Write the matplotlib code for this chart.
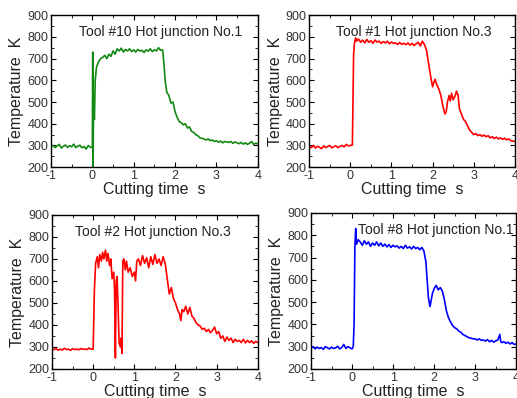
import matplotlib
matplotlib.use("Agg")
import matplotlib.pyplot as plt
from matplotlib.ticker import MultipleLocator

plt.rcParams['font.family'] = ['Liberation Sans', 'DejaVu Sans']

# baseline sample times before the cut starts
t_base = [-1.00, -0.95, -0.90, -0.85, -0.80, -0.75, -0.70, -0.65, -0.60, -0.55,
          -0.50, -0.45, -0.40, -0.35, -0.30, -0.25, -0.20, -0.15, -0.10, -0.05]

# Tool #10 Hot junction No.1
t10 = t_base + [0.00, 0.01, 0.015, 0.03, 0.05, 0.07, 0.10, 0.15, 0.20, 0.25, 0.30, 0.35,
                0.40, 0.45, 0.50, 0.55, 0.60, 0.65, 0.70, 0.75, 0.80, 0.85, 0.90, 0.95,
                1.00, 1.05, 1.10, 1.15, 1.20, 1.25, 1.30, 1.35, 1.40, 1.45, 1.50, 1.55,
                1.60, 1.65, 1.70, 1.73, 1.76, 1.80, 1.85, 1.90, 1.95, 2.00, 2.05, 2.10,
                2.15, 2.20, 2.25, 2.30, 2.35, 2.40, 2.45, 2.50, 2.55, 2.60, 2.70, 2.75,
                2.80, 2.85, 2.90, 2.95, 3.00, 3.05, 3.10, 3.15, 3.20, 3.30, 3.35, 3.40,
                3.45, 3.50, 3.55, 3.60, 3.65, 3.70, 3.75, 3.80, 3.85, 3.90, 3.95, 4.00]
T10 = [295, 300, 290, 298, 305, 288, 296, 302, 291, 299, 294, 306, 290, 297, 301, 289,
       295, 283, 300, 292,
       290, 730, 200, 480, 420, 600, 660, 685, 700, 705, 715, 700,
       720, 710, 735, 720, 745, 735, 748, 730, 742, 735, 745, 732,
       740, 730, 742, 735, 738, 728, 740, 734, 745, 732, 740, 735,
       750, 738, 740, 680, 600, 545, 530, 495, 500, 455, 430, 410,
       405, 395, 400, 380, 385, 365, 360, 350, 345, 335, 330, 325,
       330, 322, 325, 318, 322, 315, 320, 312, 318, 314, 318, 310,
       316, 312, 308, 314, 306, 312, 305, 310, 318, 305, 310, 308]

# Tool #1 Hot junction No.3
t1 = t_base + [0.00, 0.05, 0.08, 0.10, 0.13, 0.15, 0.20, 0.25, 0.30, 0.35, 0.40, 0.45,
               0.50, 0.55, 0.60, 0.65, 0.70, 0.75, 0.80, 0.85, 0.90, 0.95, 1.00, 1.05,
               1.10, 1.15, 1.20, 1.25, 1.30, 1.35, 1.40, 1.45, 1.50, 1.55, 1.60, 1.65,
               1.70, 1.75, 1.80, 1.85, 1.90, 1.95, 2.00, 2.03, 2.06, 2.10, 2.15, 2.20,
               2.25, 2.30, 2.33, 2.36, 2.40, 2.43, 2.46, 2.50, 2.55, 2.58, 2.62, 2.65,
               2.70, 2.75, 2.80, 2.85, 2.90, 2.95, 3.00, 3.05, 3.10, 3.15, 3.20, 3.25,
               3.30, 3.35, 3.40, 3.45, 3.50, 3.55, 3.60, 3.65, 3.70, 3.75, 3.80, 3.85,
               3.90, 3.95, 4.00]
T1 = [295, 290, 300, 288, 296, 292, 285, 298, 290, 295, 300, 289, 294, 298, 290, 296,
      300, 293, 305, 298,
      300, 302, 720, 770, 795, 780, 790, 775, 785, 772, 788, 775,
      782, 770, 785, 776, 780, 770, 778, 772, 780, 768, 776, 770,
      772, 765, 774, 766, 770, 764, 772, 762, 770, 760, 768, 775,
      758, 780, 765, 740, 680, 620, 570, 590, 605, 580, 560, 530,
      480, 445, 455, 500, 530, 505, 540, 510, 530, 550, 530, 470,
      445, 420, 410, 390, 370, 360, 350, 355, 345, 350, 342, 348,
      340, 345, 335, 340, 332, 338, 330, 335, 328, 333, 326, 330,
      322, 320, 318]

# Tool #2 Hot junction No.3
t2 = t_base + [0.00, 0.03, 0.06, 0.10, 0.13, 0.16, 0.20, 0.23, 0.26, 0.30, 0.33, 0.36,
               0.40, 0.43, 0.46, 0.50, 0.52, 0.54, 0.56, 0.58, 0.60, 0.63, 0.66, 0.68,
               0.70, 0.72, 0.75, 0.78, 0.81, 0.85, 0.90, 0.95, 1.00, 1.03, 1.06, 1.10,
               1.15, 1.20, 1.25, 1.30, 1.35, 1.40, 1.45, 1.50, 1.55, 1.60, 1.65, 1.70,
               1.75, 1.80, 1.85, 1.90, 1.95, 2.00, 2.05, 2.10, 2.13, 2.16, 2.20, 2.25,
               2.30, 2.35, 2.40, 2.45, 2.50, 2.55, 2.60, 2.65, 2.70, 2.75, 2.80, 2.85,
               2.90, 2.95, 3.00, 3.05, 3.10, 3.15, 3.20, 3.25, 3.30, 3.35, 3.40, 3.45,
               3.50, 3.55, 3.60, 3.65, 3.70, 3.75, 3.80, 3.85, 3.90, 3.95, 4.00]
T2 = [290, 288, 292, 285, 290, 286, 294, 288, 290, 285, 292, 288, 290, 287, 293, 289,
      291, 288, 295, 290,
      290, 560, 680, 710, 660, 720, 690, 730, 700, 740, 690, 725,
      670, 700, 610, 640, 560, 250, 600, 620, 520, 320, 300, 340,
      270, 690, 700, 650, 690, 640, 660, 620, 640, 600, 690, 700,
      670, 715, 680, 705, 660, 710, 675, 720, 680, 700, 670, 710,
      680, 610, 540, 570, 520, 500, 470, 450, 420, 470, 460, 485,
      450, 480, 440, 430, 410, 400, 395, 380, 385, 370, 380, 365,
      375, 390, 360, 370, 340, 350, 325, 345, 330, 340, 320, 335,
      325, 330, 320, 335, 318, 330, 320, 328, 316, 325, 320]

# Tool #8 Hot junction No.1
t8 = t_base + [0.00, 0.03, 0.05, 0.07, 0.09, 0.11, 0.15, 0.20, 0.25, 0.30, 0.35, 0.40,
               0.45, 0.50, 0.55, 0.60, 0.65, 0.70, 0.75, 0.80, 0.85, 0.90, 0.95, 1.00,
               1.05, 1.10, 1.15, 1.20, 1.25, 1.30, 1.35, 1.40, 1.45, 1.50, 1.55, 1.60,
               1.65, 1.70, 1.75, 1.80, 1.83, 1.86, 1.90, 1.93, 1.96, 2.00, 2.05, 2.10,
               2.15, 2.20, 2.25, 2.30, 2.35, 2.40, 2.45, 2.50, 2.55, 2.60, 2.65, 2.70,
               2.75, 2.80, 2.85, 2.90, 2.95, 3.00, 3.05, 3.10, 3.15, 3.20, 3.25, 3.30,
               3.35, 3.40, 3.45, 3.50, 3.55, 3.60, 3.62, 3.65, 3.70, 3.75, 3.80, 3.85,
               3.90, 3.95, 4.00]
T8 = [295, 300, 290, 298, 292, 296, 288, 300, 295, 290, 298, 292, 294, 302, 290, 296,
      310, 292, 300, 295,
      290, 300, 400, 750, 830, 760, 780, 770, 755, 775, 760, 770,
      750, 765, 755, 770, 752, 765, 750, 760, 748, 758, 745, 755,
      748, 752, 742, 750, 740, 755, 742, 748, 738, 750, 740, 745,
      735, 745, 730, 680, 600, 520, 480, 510, 540, 560, 575, 555,
      565, 550, 510, 460, 430, 410, 395, 385, 380, 370, 365, 355,
      350, 345, 340, 338, 335, 335, 330, 335, 328, 330, 325, 332,
      322, 328, 320, 326, 330, 355, 325, 318, 322, 315, 320, 312,
      318, 310, 312]

panels = [
    (t10, T10, '#118811', 'Tool #10 Hot junction No.1', [0.0986, 0.580, 0.400, 0.382], 0.53),
    (t1, T1, 'red', 'Tool #1 Hot junction No.3', [0.598, 0.580, 0.398, 0.382], 0.51),
    (t2, T2, 'red', 'Tool #2 Hot junction No.3', [0.1006, 0.073, 0.398, 0.387], 0.49),
    (t8, T8, 'blue', 'Tool #8 Hot junction No.1', [0.6015, 0.073, 0.397, 0.392], 0.607),
]

fig = plt.figure(figsize=(5.17, 3.98), dpi=100)
for t, T, c, name, pos, tx in panels:
    ax = fig.add_axes(pos)
    ax.plot(t, T, color=c, lw=1.2)
    ax.set_xlim(-1, 4)
    ax.set_ylim(200, 900)
    ax.xaxis.set_major_locator(MultipleLocator(1))
    ax.xaxis.set_minor_locator(MultipleLocator(0.5))
    ax.yaxis.set_major_locator(MultipleLocator(100))
    ax.yaxis.set_minor_locator(MultipleLocator(50))
    ax.tick_params(which='both', direction='in', top=True, right=True,
                   labelsize=9, labelcolor='#333333', pad=2)
    ax.tick_params(which='major', length=3.5, width=0.8)
    ax.tick_params(which='minor', length=2, width=0.6)
    ax.set_xticks([-1, 0, 1, 2, 3, 4])
    ax.set_xticklabels(['-1', '0', '1', '2', '3', '4'])
    ax.set_xlabel('Cutting time  s', fontsize=11.5, labelpad=0, color='#222222')
    ax.set_ylabel('Temperature  K', fontsize=11.5, labelpad=2, color='#222222')
    ax.text(tx, 0.89, name, transform=ax.transAxes, ha='center', va='center',
            fontsize=10, color='#222222')
    for s in ax.spines.values():
        s.set_linewidth(1.0)

fig.savefig('out.png', dpi=100)
